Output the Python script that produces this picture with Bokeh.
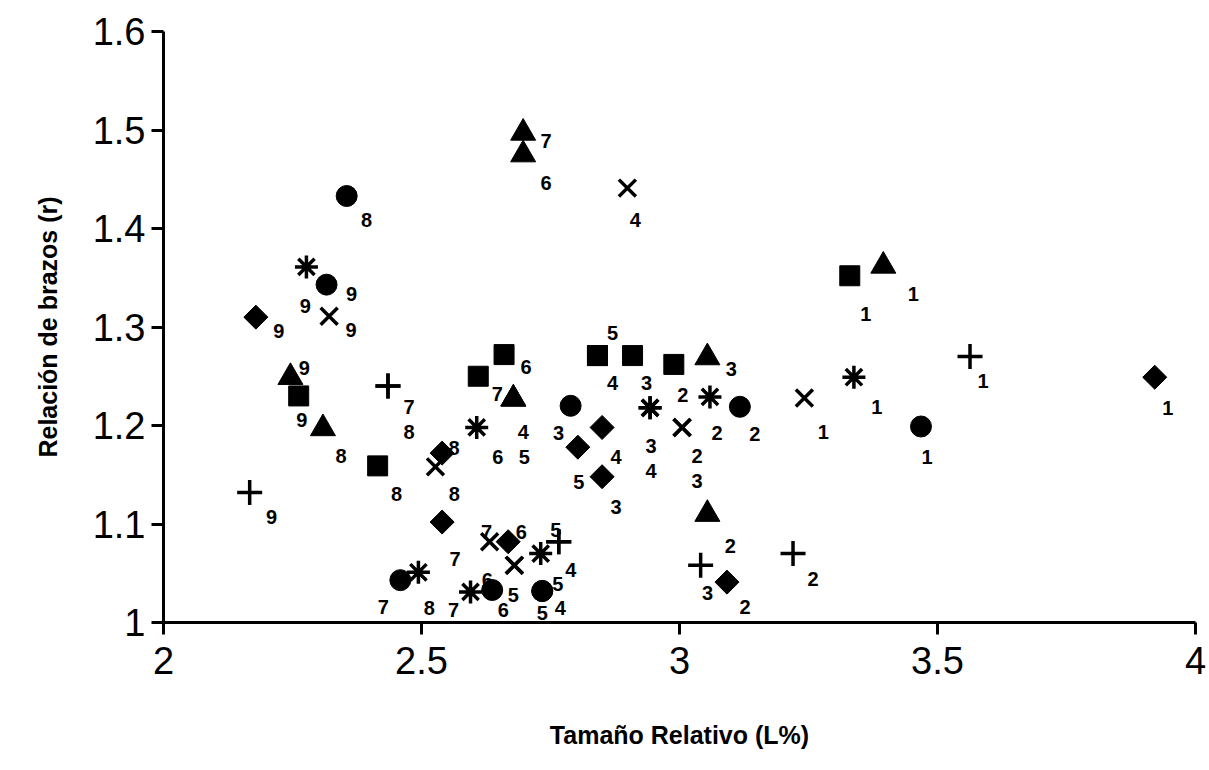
import math
from bokeh.plotting import figure
from bokeh.models import ColumnDataSource, Range1d, FixedTicker
from bokeh.core.properties import value
from bokeh.embed import file_html
from bokeh.resources import INLINE

# ---------------- data ----------------
# diamond series
dia_x = [3.921, 3.092, 2.850, 2.850, 2.803, 2.668, 2.540, 2.540, 2.179]
dia_y = [1.249, 1.041, 1.148, 1.198, 1.178, 1.082, 1.102, 1.172, 1.310]
dia_lab = ["1", "2", "3", "4", "5", "6", "7", "8", "9"]

# square series
sq_x = [3.330, 2.989, 2.909, 2.841, 2.841, 2.660, 2.610, 2.415, 2.262]
sq_y = [1.352, 1.262, 1.271, 1.271, 1.271, 1.272, 1.250, 1.159, 1.230]
sq_lab = ["1", "2", "3", "4", "5", "6", "7", "8", "9"]

# triangle series
tri_x = [3.395, 3.054, 3.054, 2.678, 2.678, 2.697, 2.697, 2.309, 2.246]
tri_y = [1.362, 1.110, 1.269, 1.227, 1.227, 1.475, 1.497, 1.197, 1.249]
tri_lab = ["1", "2", "3", "4", "5", "6", "7", "8", "9"]

# x series
xx_x = [3.242, 3.005, 3.005, 2.899, 2.680, 2.680, 2.632, 2.527, 2.321]
xx_y = [1.228, 1.198, 1.198, 1.441, 1.058, 1.058, 1.082, 1.158, 1.311]
xx_lab = ["1", "2", "3", "4", "5", "6", "7", "8", "9"]

# asterisk series
ast_x = [3.338, 3.059, 2.943, 2.943, 2.731, 2.607, 2.595, 2.494, 2.277]
ast_y = [1.249, 1.229, 1.218, 1.218, 1.070, 1.198, 1.031, 1.051, 1.361]
ast_lab = ["1", "2", "3", "4", "5", "6", "7", "8", "9"]

# circle series
cir_x = [3.468, 3.117, 2.789, 2.734, 2.734, 2.637, 2.459, 2.355, 2.316]
cir_y = [1.199, 1.219, 1.220, 1.032, 1.032, 1.033, 1.043, 1.433, 1.343]
cir_lab = ["1", "2", "3", "4", "5", "6", "7", "8", "9"]

# plus series
pl_x = [3.563, 3.220, 3.041, 2.766, 2.766, 2.435, 2.435, 2.167]
pl_y = [1.270, 1.070, 1.058, 1.082, 1.082, 1.240, 1.240, 1.132]
pl_lab = ["1", "2", "3", "4", "5", "7", "8", "9"]

x_ticks = [2, 2.5, 3, 3.5, 4]
y_ticks = [1, 1.1, 1.2, 1.3, 1.4, 1.5, 1.6]
x_title = "Tamaño Relativo (L%)"
y_title = "Relación de brazos (r)"

# ---------------- label placement (screen px, +dy = down) ----------------
dia_off = [(13, 31), (18, 25), (14, 30), (14, 30), (1, 35), (13, -10), (13, 37), (12, -5), (23, 14)]
sq_off = [(16, 38), (9, 31), (14, 27), (15, 27), (15, -23), (22, 12), (19, 18), (19, 28), (3, 24)]
tri_off = [(30, 28), (23, 32), (24, 11), (10, 33), (11, 58), (23, 28), (23, 8), (18, 28), (14, -9)]
xx_off = [(19, 34), (15, 29), (15, 54), (8, 32), (-1, 30), (-27, 15), (-3, -10), (19, 27), (22, 14)]
ast_off = [(23, 30), (7, 36), (1, 38), (1, 63), (17, 30), (21, 30), (-17, 18), (11, 36), (-1, 39)]
cir_off = [(6, 31), (15, 27), (-12, 27), (18, 17), (0, 22), (11, 20), (-17, 27), (20, 24), (25, 9)]
pl_off = [(13, 24), (20, 25), (7, 28), (12, 28), (-3, -12), (21, 21), (21, 46), (22, 25)]

FONT = "Liberation Sans"

p = figure(width=1207, height=752, output_backend="svg", toolbar_location=None,
           x_range=Range1d(2, 4), y_range=Range1d(1, 1.6),
           min_border_left=163, min_border_right=12, min_border_top=31, min_border_bottom=130)
p.outline_line_color = None
p.xgrid.visible = False
p.ygrid.visible = False
p.background_fill_color = "white"
p.border_fill_color = "white"

for ax in (p.xaxis[0], p.yaxis[0]):
    ax.axis_line_width = 3
    ax.axis_line_color = "black"
    ax.major_tick_line_width = 3
    ax.major_tick_line_color = "black"
    ax.major_tick_in = 0
    ax.major_tick_out = 12
    ax.minor_tick_line_color = None
    ax.major_label_text_font = FONT
    ax.major_label_text_font_size = "38px"
    ax.major_label_text_color = "black"
    ax.axis_label_text_font = FONT
    ax.axis_label_text_font_style = "bold"
    ax.axis_label_text_font_size = "25px"
    ax.axis_label_text_color = "black"

p.xaxis[0].ticker = FixedTicker(ticks=x_ticks)
p.yaxis[0].ticker = FixedTicker(ticks=y_ticks)
p.xaxis[0].major_label_overrides = {2: "2", 2.5: "2.5", 3: "3", 3.5: "3.5", 4: "4"}
p.yaxis[0].major_label_overrides = {1: "1", 1.1: "1.1", 1.2: "1.2", 1.3: "1.3", 1.4: "1.4", 1.5: "1.5", 1.6: "1.6"}
p.xaxis[0].major_label_standoff = 12
p.yaxis[0].major_label_standoff = 6
p.xaxis[0].axis_label = x_title
p.yaxis[0].axis_label = y_title
p.xaxis[0].axis_label_standoff = 44
p.yaxis[0].axis_label_standoff = 28

series = [
    (dia_x, dia_y, dia_lab, dia_off, dict(marker="square", size=17, angle=math.pi / 4, fill_color="black", line_color="black")),
    (sq_x, sq_y, sq_lab, sq_off, dict(marker="square", size=20, fill_color="black", line_color="black")),
    (tri_x, tri_y, tri_lab, tri_off, dict(marker="triangle", size=25, fill_color="black", line_color="black")),
    (xx_x, xx_y, xx_lab, xx_off, dict(marker="x", size=24, line_color="black", line_width=3.5)),
    (ast_x, ast_y, ast_lab, ast_off, dict(marker="asterisk", size=23, line_color="black", line_width=3.5)),
    (cir_x, cir_y, cir_lab, cir_off, dict(marker="circle", size=21, fill_color="black", line_color="black")),
    (pl_x, pl_y, pl_lab, pl_off, dict(marker="cross", size=25, line_color="black", line_width=3.5)),
]

for xs, ys, labs, offs, style in series:
    src = ColumnDataSource(dict(x=xs, y=ys, lab=labs,
                                dx=[o[0] for o in offs], dy=[o[1] for o in offs]))
    p.scatter("x", "y", source=src, **style)
    p.text("x", "y", text="lab", source=src, x_offset="dx", y_offset="dy",
           text_font=value(FONT), text_font_style="bold", text_font_size="20px",
           text_align="center", text_baseline="middle", text_color="black")

open("out.html", "w").write(file_html(p, INLINE))
